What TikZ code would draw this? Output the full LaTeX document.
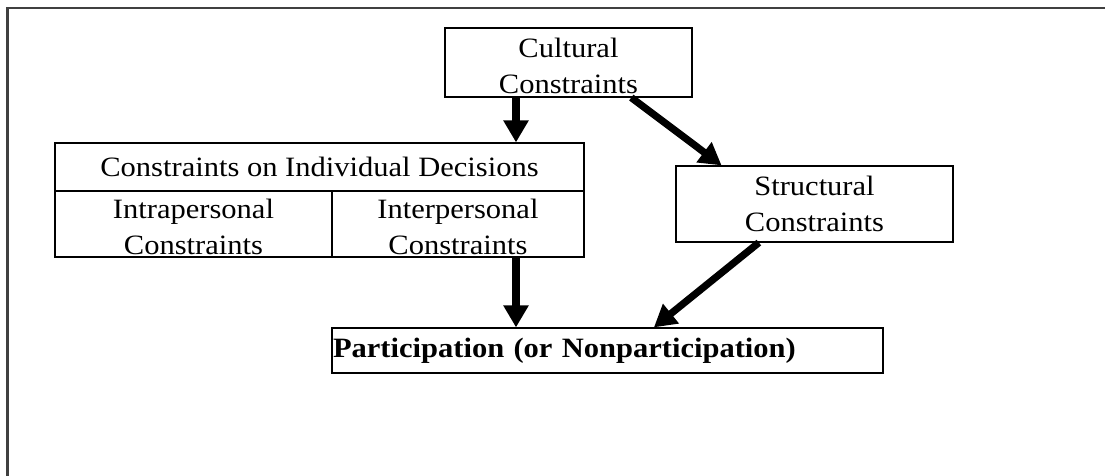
\documentclass[tikz,border=0pt]{standalone}
\usepackage{fontspec}
\setmainfont[FakeStretch=1.09]{Liberation Serif}
\usepackage{tikz}
\usetikzlibrary{arrows.meta}
\usetikzlibrary{calc}
\definecolor{framegray}{rgb}{0.25, 0.25, 0.25}

\tikzset{
  box/.style={draw, line width=0.6pt, inner sep=0pt, align=center,
    font=\fontsize{14}{18}\selectfont},
  bigarrow/.style={line width=3.6pt, -{Triangle[length=11pt,width=12pt]}}
}

\begin{document}
\begin{tikzpicture}[x=0.5pt, y=-0.5pt]
    \useasboundingbox (0,0) rectangle (1105,476);
    \draw[line width=1.2pt, framegray] (7.5,476) -- (7.5,8) -- (1105,8);

    \node[box, minimum width=123.5pt, minimum height=34.5pt] (cultural) at (568.5,62.5) {\rule{0pt}{13pt}Cultural\\Constraints};
    \node[box, minimum width=264.5pt, minimum height=24pt] (decisions) at (319.5,167) {Constraints on Individual Decisions};
    \node[box, minimum width=138.5pt, minimum height=33pt] (intra) at (193.5,224) {\rule{0pt}{13pt}Intrapersonal\\Constraints};
    \node[box, minimum width=126pt, minimum height=33pt] (inter) at (458,224) {\rule{0pt}{13pt}Interpersonal\\Constraints};
    \node[box, minimum width=138.5pt, minimum height=38pt] (structural) at (814.5,204) {Structural\\Constraints};
    \node[box, text width=275.5pt, minimum height=22.5pt, align=left, font=\fontsize{14}{18}\selectfont\bfseries] (participation) at (607.5,350.5) {\hspace{0.5pt}Participation (or Nonparticipation)};

    \coordinate (arrowx) at (516,0);
    \draw[bigarrow] (cultural.south -| arrowx) -- (decisions.north -| arrowx);
    \draw[bigarrow] ($(cultural.south west)!0.753!(cultural.south east)$) -- ($(structural.north west)!0.166!(structural.north east)$);
    \draw[bigarrow] (inter.south -| arrowx) -- (participation.north -| arrowx);
    \draw[bigarrow] ($(structural.south west)!0.30!(structural.south east)$) -- ($(participation.north west)!0.584!(participation.north east)$);
\end{tikzpicture}
\end{document}
